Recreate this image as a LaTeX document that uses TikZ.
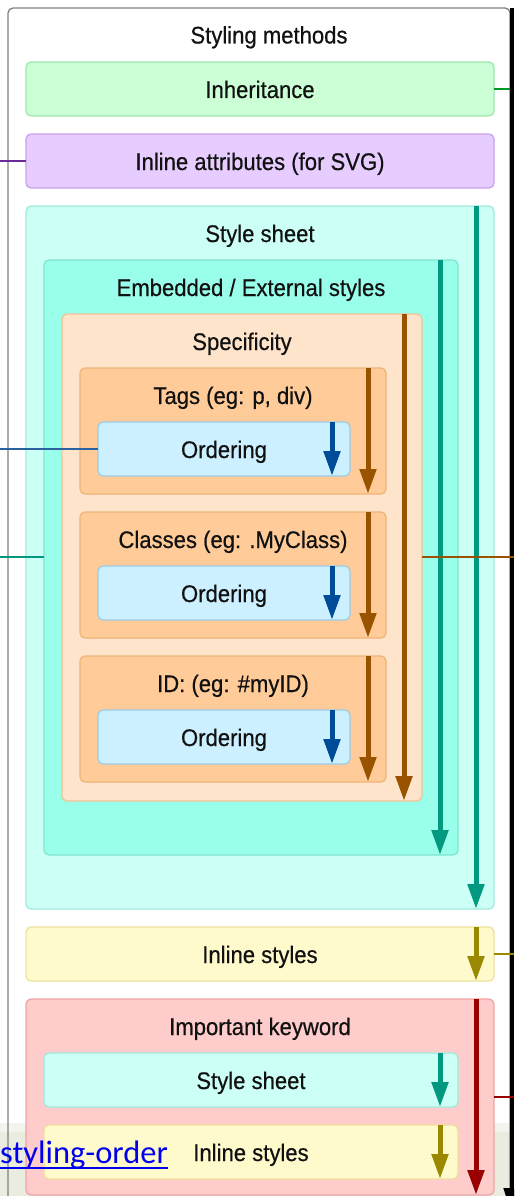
\documentclass[tikz,border=0pt]{standalone}
\usepackage{fontspec}
\setmainfont{Liberation Sans}[FakeStretch=0.92,FakeBold=0.5]
\newfontfamily\linkfont{Carlito}
\usetikzlibrary{arrows.meta}
\definecolor{txt}{HTML}{111111}
\definecolor{outerc}{HTML}{808080}
\definecolor{grnF}{HTML}{CCFFD5}\definecolor{grnD}{HTML}{9EE8B0}
\definecolor{purF}{HTML}{E6CCFF}\definecolor{purD}{HTML}{C8A2EE}
\definecolor{ssF}{HTML}{CCFFF5}\definecolor{ssD}{HTML}{A0EBDB}
\definecolor{embF}{HTML}{99FFEA}\definecolor{embD}{HTML}{80E6D0}
\definecolor{spcF}{HTML}{FFE4CC}\definecolor{spcD}{HTML}{F0C496}
\definecolor{tagF}{HTML}{FFCC99}\definecolor{tagD}{HTML}{EEB47A}
\definecolor{ordF}{HTML}{CCF0FF}\definecolor{ordD}{HTML}{9CCBE3}
\definecolor{inlF}{HTML}{FFFACC}\definecolor{inlD}{HTML}{EEE09C}
\definecolor{impF}{HTML}{FFCCCC}\definecolor{impD}{HTML}{EEA4A4}
\definecolor{tealA}{HTML}{009980}
\definecolor{brownA}{HTML}{995200}
\definecolor{blueA}{HTML}{004C99}
\definecolor{oliveA}{HTML}{998800}
\definecolor{redA}{HTML}{990000}
\definecolor{greenL}{HTML}{009926}
\definecolor{purpleL}{HTML}{6A2A9A}
\definecolor{blueL}{HTML}{2A62A0}
\definecolor{bandA}{HTML}{F3F4EE}
\definecolor{bandB}{HTML}{E9ECDF}
\definecolor{linkc}{HTML}{0000EE}
\begin{document}
\begin{tikzpicture}[x=1pt,y=-1pt,
  box/.style={draw, rounded corners=5pt, line width=1.3pt, inner sep=0pt, outer sep=0pt,
    font=\fontsize{24}{28}\selectfont, text=txt, text height=18pt, text depth=0pt},
  lbl/.style={font=\fontsize{24}{28}\selectfont, text=txt, inner sep=0pt, text height=18pt, text depth=0pt},
  arr/.style={line width=5pt, -{Triangle[length=25pt,width=16pt]}},
  conn/.style={line width=1.7pt}]
\useasboundingbox (0,0) rectangle (514,1196);
\clip (0,0) rectangle (514,1196);
% background band
\fill[bandA] (0,1123) rectangle (514,1196);
\fill[bandB] (0,1132) rectangle (514,1196);
% outer container
\node[box, draw=outerc, minimum width=502pt, minimum height=1222pt] (outer) at (259,619) {};
\node[lbl] (outerT) at (269,34.5) {Styling methods};
% right black arrow
\coordinate (blkT) at (512,8);
\coordinate (blkB) at (512,1216);
\draw[line width=4.5pt, black, -{Triangle[length=28pt,width=16pt]}] (blkT) -- (blkB);
% simple boxes
\node[box, fill=grnF, draw=grnD, minimum width=468pt, minimum height=54pt] (inh) at (260,89) {Inheritance};
\node[box, fill=purF, draw=purD, minimum width=468pt, minimum height=54pt] (att) at (260,161) {Inline attributes (for SVG)};
% style sheet
\node[box, fill=ssF, draw=ssD, minimum width=468pt, minimum height=703pt] (ss) at (260,557.5) {};
\node[lbl] (ssT) at ([yshift=-27pt]ss.north) {Style sheet};
\node[box, fill=embF, draw=embD, minimum width=414pt, minimum height=595pt] (emb) at (251,557.5) {};
\node[lbl] (embT) at ([yshift=-27pt]emb.north) {Embedded / External styles};
\node[box, fill=spcF, draw=spcD, minimum width=360pt, minimum height=487pt] (spec) at (242,557.5) {};
\node[lbl] (specT) at ([yshift=-27pt]spec.north) {Specificity};
% tags
\node[box, fill=tagF, draw=tagD, minimum width=306pt, minimum height=126pt] (tags) at (233,431) {};
\node[lbl] (tagsT) at ([yshift=-27pt]tags.north) {Tags (eg: p, div)};
\node[box, fill=ordF, draw=ordD, minimum width=252pt, minimum height=54pt] (ord1) at (224,449) {Ordering};
% classes
\node[box, fill=tagF, draw=tagD, minimum width=306pt, minimum height=126pt] (cls) at (233,575) {};
\node[lbl] (clsT) at ([yshift=-27pt]cls.north) {Classes (eg: .MyClass)};
\node[box, fill=ordF, draw=ordD, minimum width=252pt, minimum height=54pt] (ord2) at (224,593) {Ordering};
% id
\node[box, fill=tagF, draw=tagD, minimum width=306pt, minimum height=126pt] (idb) at (233,719) {};
\node[lbl] (idbT) at ([yshift=-27pt]idb.north) {ID: (eg: \#myID)};
\node[box, fill=ordF, draw=ordD, minimum width=252pt, minimum height=54pt] (ord3) at (224,737) {Ordering};
% inline styles
\node[box, fill=inlF, draw=inlD, minimum width=468pt, minimum height=54pt] (inl) at (260,954) {Inline styles};
% important
\node[box, fill=impF, draw=impD, minimum width=468pt, minimum height=196pt] (imp) at (260,1097) {};
\node[lbl] (impT) at ([yshift=-27pt]imp.north) {Important keyword};
\node[box, fill=ssF, draw=ssD, minimum width=414pt, minimum height=54pt] (iss) at (251,1080) {Style sheet};
\node[box, fill=inlF, draw=inlD, minimum width=414pt, minimum height=54pt] (iinl) at (251,1152) {Inline styles};
% arrows
\draw[arr, tealA] ([xshift=-18pt]ss.north east) -- ([xshift=-18pt]ss.south east);
\draw[arr, tealA] ([xshift=-18pt]emb.north east) -- ([xshift=-18pt]emb.south east);
\draw[arr, brownA] ([xshift=-18pt]spec.north east) -- ([xshift=-18pt]spec.south east);
\foreach \b in {tags,cls,idb}{
  \draw[arr, brownA] ([xshift=-18pt]\b.north east) -- ([xshift=-18pt]\b.south east);
}
\foreach \b in {ord1,ord2,ord3}{
  \draw[arr, blueA] ([xshift=-18pt]\b.north east) -- ([xshift=-18pt]\b.south east);
}
\draw[arr, oliveA] ([xshift=-18pt]inl.north east) -- ([xshift=-18pt]inl.south east);
\draw[arr, redA] ([xshift=-18pt]imp.north east) -- ([xshift=-18pt]imp.south east);
\draw[arr, tealA] ([xshift=-18pt]iss.north east) -- ([xshift=-18pt]iss.south east);
\draw[arr, oliveA] ([xshift=-18pt]iinl.north east) -- ([xshift=-18pt]iinl.south east);
% connectors
\coordinate (cG) at (510,89);
\coordinate (cP) at (0,161);
\coordinate (cB) at (0,449);
\coordinate (cT) at (0,557);
\coordinate (cBr) at (514,557);
\coordinate (cO) at (514,954);
\coordinate (cR) at (514,1097);
\draw[conn, greenL] (inh.east) -- (cG);
\draw[conn, purpleL] (cP) -- (att.west);
\draw[conn, blueL] (cB) -- (ord1.west);
\draw[conn, tealA] (cT) -- (emb.west |- cT);
\draw[conn, brownA] (spec.east |- cBr) -- (cBr);
\draw[conn, oliveA] (inl.east) -- (cO);
\draw[conn, redA] (imp.east) -- (cR);
% link text
\node[anchor=base west, inner sep=0pt, text=linkc, font=\linkfont\fontsize{32.5}{38}\selectfont] (link) at (0,1163) {styling-order};
\draw[linkc, line width=1.6pt] ([yshift=-5pt]link.base west) -- ([yshift=-5pt]link.base east);
\end{tikzpicture}
\end{document}
